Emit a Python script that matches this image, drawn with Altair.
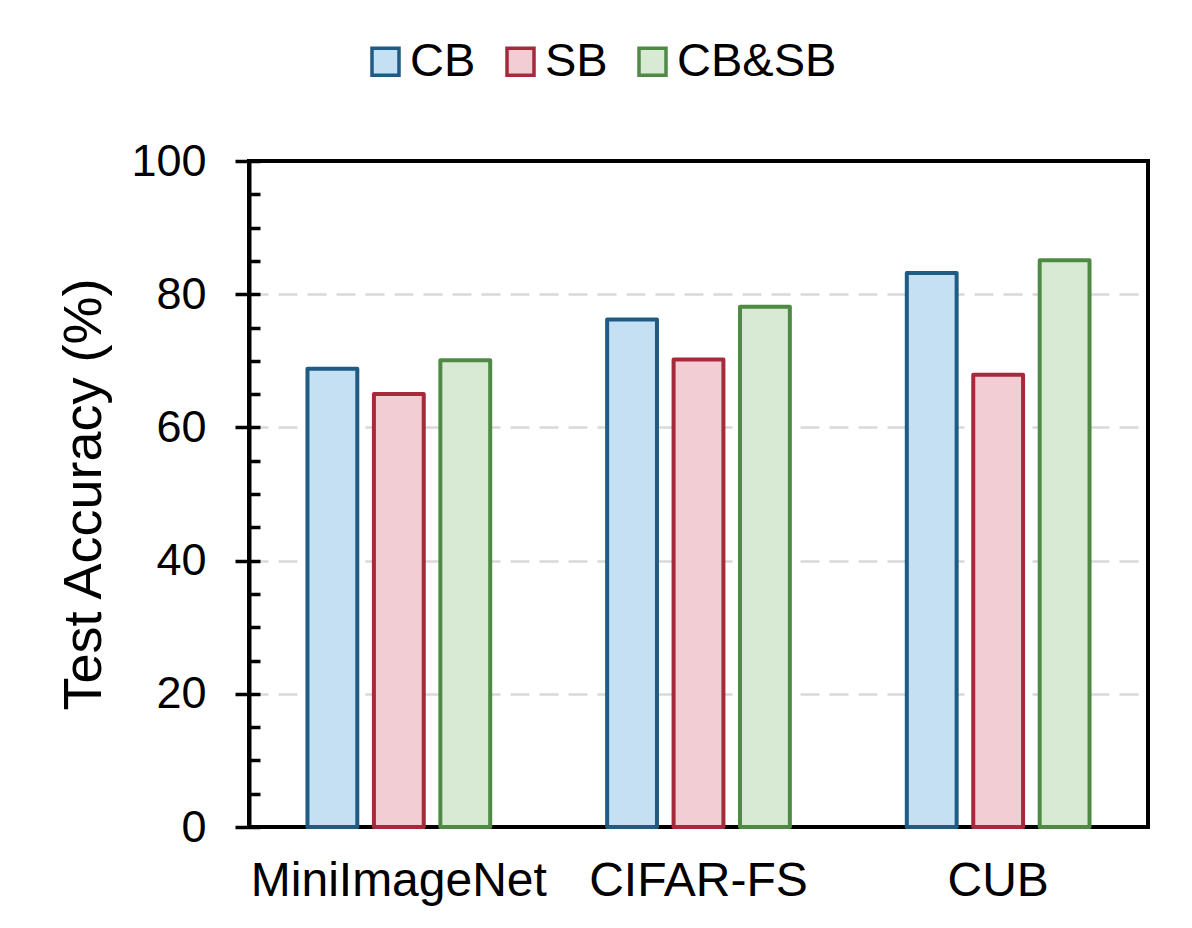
import altair as alt
import pandas as pd

datasets = ["MiniImageNet", "CIFAR-FS", "CUB"]
series = ["CB", "SB", "CB&SB"]
cb_vals = [68.8, 76.2, 83.2]
sb_vals = [65.0, 70.2, 67.9]
cbsb_vals = [70.1, 78.1, 85.1]
fill_colors = ["#C5E0F2", "#F2CDD3", "#D9EAD4"]
stroke_colors = ["#1F5B82", "#A52A3C", "#4F8A45"]
major_ticks = [0, 20, 40, 60, 80, 100]
grid_ticks = [20, 40, 60, 80]
minor_ticks = list(range(0, 101, 5))

rows = []
for i, d in enumerate(datasets):
    for s, vals in zip(series, [cb_vals, sb_vals, cbsb_vals]):
        rows.append({"dataset": d, "series": s, "value": vals[i]})
df = pd.DataFrame(rows)

FONT = "Liberation Sans"

x_enc = alt.X("dataset:N", sort=datasets,
              scale=alt.Scale(paddingInner=0, paddingOuter=0),
              axis=alt.Axis(title=None, labelAngle=0, ticks=False, domain=False,
                            labelFontSize=48, labelFont=FONT, labelColor="black",
                            labelPadding=30, labelLimit=0))
xo_enc = alt.XOffset("series:N", sort=series,
                     scale=alt.Scale(paddingInner=0.25, paddingOuter=0.88))
y_scale = alt.Scale(domain=[0, 100], nice=False)

grid_layer = alt.Chart(df).mark_bar(opacity=0).encode(
    x=x_enc,
    xOffset=xo_enc,
    y=alt.Y("value:Q", scale=y_scale,
            axis=alt.Axis(title=None, orient="left", values=grid_ticks,
                          ticks=False, labels=False, domain=False,
                          grid=True, gridDash=[19, 10], gridColor="#D9D9D9",
                          gridWidth=2.5)),
)

bars = alt.Chart(df).mark_bar(strokeWidth=4, strokeJoin="round").encode(
    x=x_enc,
    xOffset=xo_enc,
    y=alt.Y("value:Q", scale=y_scale,
            axis=alt.Axis(title="Test Accuracy (%)", orient="left", values=major_ticks,
                          tickSize=14, tickWidth=3.5, tickColor="black",
                          domainWidth=4, domainColor="black",
                          labelFontSize=45, labelFont=FONT, labelColor="black",
                          labelPadding=29,
                          titleFontSize=54, titleFont=FONT, titleFontWeight="normal",
                          titleColor="black", titlePadding=19,
                          grid=False)),
    fill=alt.Fill("series:N", sort=series,
                  scale=alt.Scale(domain=series, range=fill_colors),
                  legend=alt.Legend(title=None)),
    stroke=alt.Stroke("series:N", sort=series,
                      scale=alt.Scale(domain=series, range=stroke_colors),
                      legend=alt.Legend(title=None)),
)

inner = alt.Chart(df).mark_bar(opacity=0).encode(
    x=x_enc,
    xOffset=xo_enc,
    y=alt.Y("value:Q", scale=y_scale,
            axis=alt.Axis(title=None, orient="left", offset=-11, values=minor_ticks,
                          tickSize=11, tickWidth=3.5, tickColor="black",
                          labels=False, domain=False, grid=False)),
)

chart = alt.layer(grid_layer, bars, inner).resolve_axis(y="independent").properties(
    width=899,
    height=666,
    autosize=alt.AutoSizeParams(type="none"),
    padding={"left": 241, "top": 153, "right": 36, "bottom": 93},
).configure_view(
    stroke="black", strokeWidth=4
).configure_legend(
    orient="none", legendX=113, legendY=-123, direction="horizontal",
    symbolType="square", symbolSize=729, symbolStrokeWidth=3.5,
    labelFontSize=47, labelFont=FONT, labelColor="black", labelOffset=1,
    columnPadding=21, padding=0
)

chart.save("out.html", embed_options={"renderer": "svg", "actions": False})
